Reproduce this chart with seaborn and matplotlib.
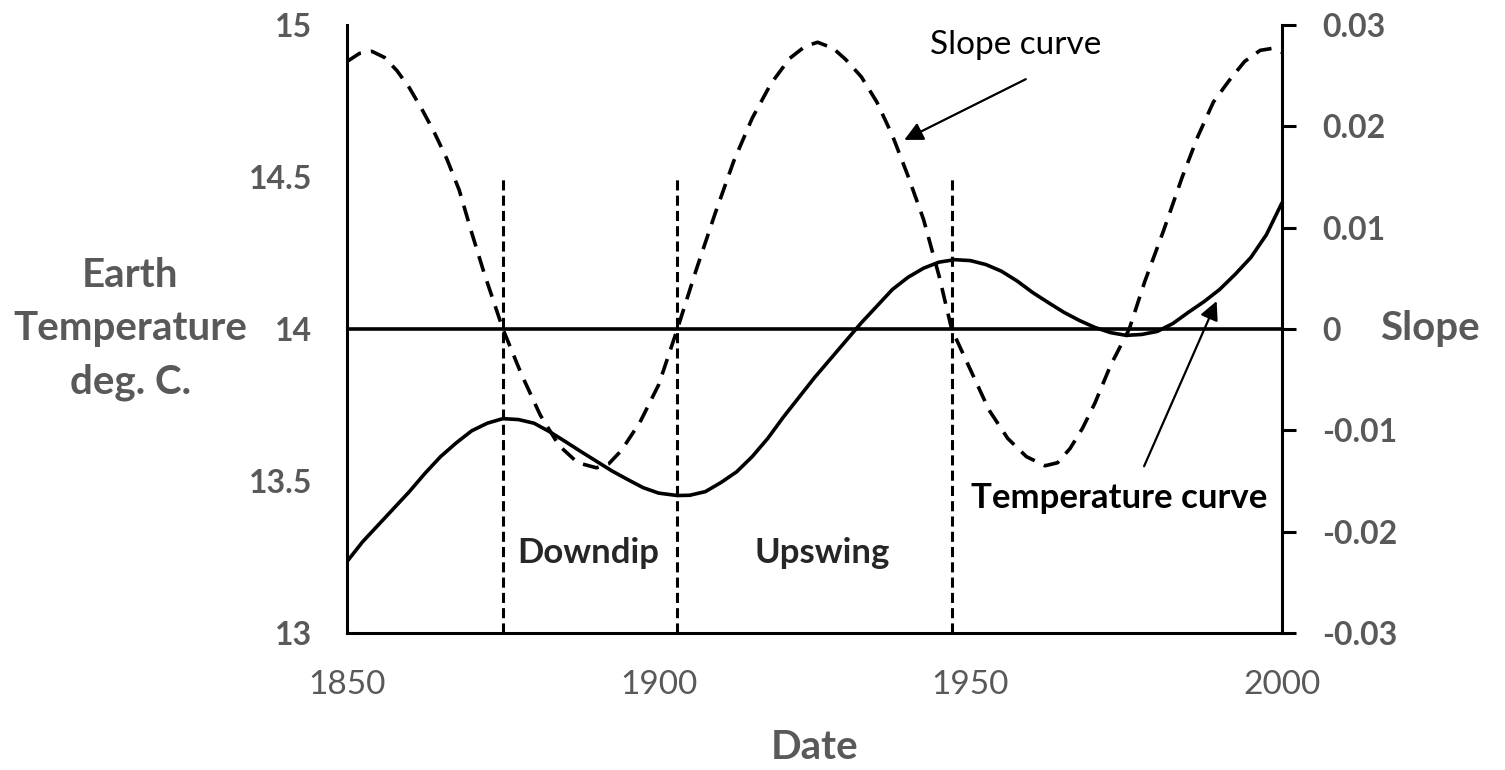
import numpy as np
import pandas as pd
import matplotlib
matplotlib.use("Agg")
import matplotlib.pyplot as plt
import seaborn as sns

# 数据：从图中读取
temp_years = [1850, 1852.5, 1855, 1857.5, 1860, 1862.5, 1865, 1867.5, 1870, 1872.5,
              1875, 1877.5, 1880, 1882.5, 1885, 1887.5, 1890, 1892.5, 1895, 1897.5,
              1900, 1903, 1905, 1907.5, 1910, 1912.5, 1915, 1917.5, 1920, 1922.5,
              1925, 1927.5, 1930, 1932.5, 1935, 1937.5, 1940, 1942.5, 1945, 1947.5,
              1950, 1952.5, 1955, 1957.5, 1960, 1962.5, 1965, 1967.5, 1970, 1972.5,
              1975, 1977.5, 1980, 1982.5, 1985, 1987.5, 1990, 1992.5, 1995, 1997.5, 2000]
temp_values = [13.235, 13.30, 13.355, 13.41, 13.465, 13.525, 13.58, 13.625, 13.665, 13.69,
               13.705, 13.702, 13.69, 13.662, 13.63, 13.597, 13.565, 13.533, 13.505, 13.478,
               13.46, 13.452, 13.453, 13.465, 13.495, 13.53, 13.58, 13.64, 13.71, 13.775,
               13.84, 13.90, 13.96, 14.02, 14.075, 14.13, 14.17, 14.20, 14.22, 14.228,
               14.225, 14.212, 14.19, 14.158, 14.12, 14.087, 14.055, 14.028, 14.005, 13.988,
               13.979, 13.982, 13.992, 14.018, 14.055, 14.09, 14.13, 14.18, 14.235, 14.31, 14.415]

slope_years = [1850, 1852, 1854, 1856, 1858, 1860, 1862, 1864, 1866, 1868,
               1870, 1872, 1875, 1878, 1881, 1884, 1887, 1890, 1892, 1894,
               1897, 1900, 1903, 1906, 1909, 1912, 1915, 1918, 1921, 1923.5,
               1925.5, 1928, 1930, 1932.5, 1935, 1937.5, 1940, 1942.5, 1945, 1947,
               1950, 1953, 1956, 1959, 1962, 1964, 1966, 1968, 1970, 1972.5,
               1975.5, 1978, 1981, 1984, 1986.5, 1989, 1991.5, 1994, 1996.5, 1998.5, 2000]
slope_values = [0.0264, 0.0272, 0.0274, 0.0268, 0.0255, 0.0238, 0.0217, 0.0194, 0.0168, 0.0137,
                0.0095, 0.0055, 0.0, -0.0045, -0.0085, -0.0115, -0.0132, -0.0137, -0.0133, -0.0120,
                -0.0092, -0.0055, 0.0, 0.0058, 0.0113, 0.0165, 0.0208, 0.0242, 0.0267, 0.0279,
                0.0283, 0.0277, 0.0266, 0.0249, 0.0224, 0.0191, 0.0151, 0.0108, 0.0052, 0.0,
                -0.0040, -0.0080, -0.0108, -0.0126, -0.0135, -0.0132, -0.0118, -0.0098, -0.0073, -0.0036,
                0.0, 0.0047, 0.0097, 0.0150, 0.0190, 0.0224, 0.0245, 0.0264, 0.0275, 0.0277, 0.0273]

phase_years = [1875, 1903, 1947]

x_ticks = [1850, 1900, 1950, 2000]
temp_ticks = [13, 13.5, 14, 14.5, 15]
temp_tick_labels = ["13", "13.5", "14", "14.5", "15"]
slope_ticks = [-0.03, -0.02, -0.01, 0, 0.01, 0.02, 0.03]
slope_tick_labels = ["-0.03", "-0.02", "-0.01", "0", "0.01", "0.02", "0.03"]

df_temp = pd.DataFrame({"Date": temp_years, "Temperature": temp_values})
df_slope = pd.DataFrame({"Date": slope_years, "Slope": slope_values})

# 样式
sns.set_style("white")
plt.rcParams["font.family"] = ["Lato", "DejaVu Sans"]
GRAY = "#595959"

fig = plt.figure(figsize=(15.05, 7.7), dpi=100)
ax = fig.add_axes([0.2306, 0.178, 0.6212, 0.7895])
ax2 = ax.twinx()

# 温度曲线
sns.lineplot(data=df_temp, x="Date", y="Temperature", ax=ax, color="black",
             linewidth=2.6, sort=False)
# 斜率曲线（虚线）
sns.lineplot(data=df_slope, x="Date", y="Slope", ax=ax2, color="black",
             linewidth=2.6, sort=False)
ax2.lines[0].set_dashes((4.5, 2.8))

# 零线和分段线
ax.axhline(14, color="black", linewidth=2.6)
ax.vlines(phase_years, 13, 14.5, colors="black", linewidth=2.2, linestyles=(0, (3.3, 1.7)))

ax.set_xlim(1850, 2000)
ax.set_ylim(13, 15)
ax2.set_ylim(-0.03, 0.03)

# 坐标轴
for s in ["top", "right"]:
    ax.spines[s].set_visible(False)
for s in ["top", "left", "bottom"]:
    ax2.spines[s].set_visible(False)
for s in ["left", "bottom"]:
    ax.spines[s].set_linewidth(2.2)
    ax.spines[s].set_color("black")
ax2.spines["right"].set_linewidth(2.2)
ax2.spines["right"].set_color("black")

ax.set_xticks(x_ticks)
ax.set_xticklabels([str(t) for t in x_ticks], fontsize=24, color=GRAY)
ax.set_yticks(temp_ticks)
ax.set_yticklabels(temp_tick_labels, fontsize=23, color=GRAY, fontweight="bold")
ax.tick_params(axis="x", length=0, pad=27)
ax.tick_params(axis="y", length=0, pad=25)

ax2.set_yticks(slope_ticks)
ax2.set_yticklabels(slope_tick_labels, fontsize=23, color=GRAY, fontweight="bold")
ax2.tick_params(axis="y", direction="out", length=10, width=2.2, color="black", pad=19)

ax.set_xlabel("Date", fontsize=29, fontweight="bold", color=GRAY, va="center")
ax.xaxis.set_label_coords(0.5, -0.189)
ax.set_ylabel("Earth\nTemperature\ndeg. C.", fontsize=29, fontweight="bold", color=GRAY,
              rotation=0, ha="center", va="center", linespacing=1.55)
ax.yaxis.set_label_coords(-0.232, 0.5)
ax2.set_ylabel("Slope", fontsize=29, fontweight="bold", color=GRAY,
               rotation=0, ha="center", va="center")
ax2.yaxis.set_label_coords(1.158, 0.5)

# 注释
arrow_kw = dict(arrowstyle="-|>", color="black", lw=1.6, mutation_scale=28)
ax.annotate("", xy=(1939.0, 14.618), xytext=(1959.3, 14.826), arrowprops=arrow_kw)
ax.annotate("", xy=(1989.7, 14.10), xytext=(1977.7, 13.54), arrowprops=arrow_kw)
ax.text(1957.2, 14.934, "Slope curve", fontsize=24, ha="center", va="center", color="black")
ax.text(1973.9, 13.444, "Temperature curve", fontsize=25, fontweight="bold",
        ha="center", va="center", color="black")
ax.text(1888.7, 13.263, "Downdip", fontsize=25, fontweight="bold", ha="center", va="center")
ax.text(1926.3, 13.263, "Upswing", fontsize=25, fontweight="bold", ha="center", va="center")

plt.savefig("out.png", dpi=100)
